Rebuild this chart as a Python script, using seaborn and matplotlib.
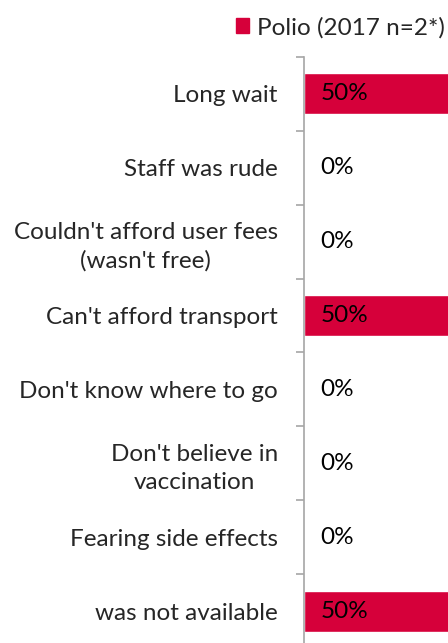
import matplotlib
matplotlib.use("Agg")
import matplotlib.pyplot as plt
import seaborn as sns
from matplotlib.patches import Patch

sns.set_theme(style="white")
plt.rcParams['font.family'] = ['Lato', 'DejaVu Sans']

categories = [
    "Long wait",
    "Staff was rude",
    "Couldn't afford user fees\n(wasn't free)",
    "Can't afford transport",
    "Don't know where to go",
    "Don't believe in\nvaccination",
    "Fearing side effects",
    "was not available",
]
values = [50, 0, 0, 50, 0, 0, 0, 50]
series_name = "Polio (2017 n=2*)"
red = "#D6003A"
fs = 17.5

fig = plt.figure(figsize=(4.48, 6.43), dpi=100)
ax = fig.add_axes([0.679, -0.0078, 0.321, 0.9192])

sns.barplot(x=values, y=list(range(len(categories))), orient='h', color=red,
            width=0.555, saturation=1, ax=ax)
ax.set_xlim(0, 32)
ax.set_ylim(len(categories) - 0.5, -0.5)

for i, v in enumerate(values):
    ax.annotate(f"{v}%", xy=(0, i), xytext=(11.5, 0), textcoords='offset points',
                ha='left', va='center', fontsize=fs, color='black')

ax.set_yticks(range(len(categories)))
ax.set_yticklabels(categories, fontsize=fs, multialignment='center', linespacing=1.4)
ax.set_yticks([i - 0.5 for i in range(len(categories))], minor=True)
ax.tick_params(axis='y', which='major', length=0, pad=19)
ax.tick_params(axis='y', which='minor', length=5.5, width=1.2, color='#A6A6A6', left=True)
ax.set_xticks([])
ax.set_xlabel("")
ax.set_ylabel("")
for s in ['top', 'right', 'bottom']:
    ax.spines[s].set_visible(False)
ax.spines['left'].set_color('#A6A6A6')
ax.spines['left'].set_linewidth(1.2)

fig.legend(handles=[Patch(color=red, label=series_name)], loc='upper right',
           bbox_to_anchor=(0.993, 0.974), frameon=False, fontsize=fs,
           borderaxespad=0, borderpad=0,
           handlelength=0.55, handleheight=0.55, handletextpad=0.33)

fig.savefig("out.png", dpi=100)
